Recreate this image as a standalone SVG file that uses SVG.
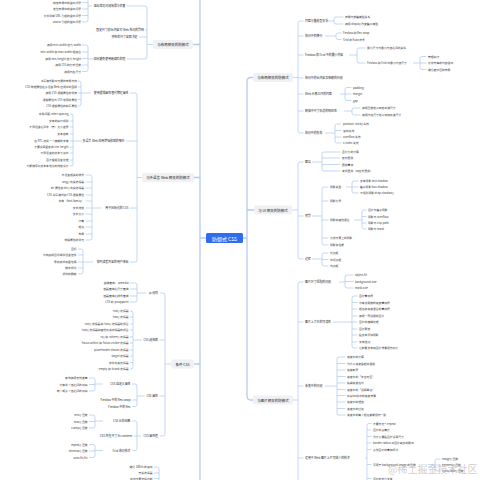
<svg xmlns="http://www.w3.org/2000/svg" width="480" height="480" viewBox="0 0 480 480">
<style>
text{font-family:"Noto Sans CJK SC","Noto Sans",sans-serif;dominant-baseline:central}
.l{font-size:2.8px;fill:#3c3c3c}
.s{font-size:2.9px;fill:#2a2a2a}
.e{text-anchor:end}
.n1{font-size:3.5px;fill:#222;text-anchor:middle}
.bg{fill:#eff1f4}
.c{fill:none;stroke:#aec6ee;stroke-width:0.7}
.t{fill:none;stroke:#b5cbf0;stroke-width:1.3}
.wm{font-size:10px;fill:#bcbcbc;opacity:0.7}
</style>
<rect width="480" height="480" fill="#fff"/>
<g id="connectors">
<path class="t" d="M200 -5V490 M206 238H200 M200 44.5H193 M200 177.5H194 M200 364H194"/>
<path class="t" d="M253 77.5H251Q247 77.5 247 81.5V396Q247 400 251 400H253 M243 238H247 M247 210H254"/>
<path class="c" d="M127 6H145Q147 6 147 8V57Q147 59 145 59H127 M147 30H145 M147 37H139 M153 44.5H147"/>
<path class="c" d="M82 -3.5H86Q88 -3.5 88 -1.5V20Q88 22 86 22H82 M88 2.5H82 M88 9H82 M88 15.5H82 M92 6H88"/>
<path class="c" d="M82 45H86Q88 45 88 47V69.5Q88 71.5 86 71.5H82 M88 52H82 M88 58.5H82 M88 65H82 M94 59H88"/>
<path class="c" d="M130 93H135Q137 93 137 95V260Q137 262 135 262H130 M137 141H126 M137 208H130 M142 177.5H137"/>
<path class="c" d="M78 81H79Q81 81 81 83V104Q81 106 79 106H78 M81 87H78 M81 93H78 M81 99.5H78 M91 93H81"/>
<path class="c" d="M70 114H71Q73 114 73 116V164Q73 166 71 166H70 M73 121H70 M73 127H70 M73 134H70 M73 141H70 M73 147H70 M73 153H70 M73 160H70 M82 141H73"/>
<path class="c" d="M85.5 175H90Q92 175 92 177V238Q92 240 90 240H85.5 M92 182H85.5 M92 188H85.5 M92 195H85.5 M92 201H85.5 M92 208H85.5 M92 214H85.5 M92 221H85.5 M92 227H85.5 M92 234H85.5 M101 208H92"/>
<path class="c" d="M78 249H81Q83 249 83 251V272Q83 274 81 274H78 M83 255H78 M83 262H78 M83 268H78 M93 262H83"/>
<path class="c" d="M160 293H163Q165 293 165 295V434Q165 436 163 436H160 M165 340H159.5 M165 396H159.5 M171 364H165"/>
<path class="c" d="M130 283H135Q137 283 137 285V300Q137 302 135 302H130 M137 289H130 M137 296H130 M146 293H137"/>
<path class="c" d="M130 311H131Q133 311 133 313V367Q133 369 131 369H130 M133 317H130 M133 324H130 M133 330H130 M133 337H130 M133 343H130 M133 350H130 M133 356H130 M133 362.5H130 M142 340H133"/>
<path class="c" d="M132 384H135Q137 384 137 386V404.5Q137 406.5 135 406.5H132 M137 400H132 M145 396H137"/>
<path class="c" d="M89 378H93Q95 378 95 380V389Q95 391 93 391H89 M95 384.5H89 M103 384H95"/>
<path class="c" d="M132 421H135Q137 421 137 423V448.5Q137 450.5 135 450.5H132 M137 436H133.5 M141 436H137"/>
<path class="c" d="M89 415H93Q95 415 95 417V426Q95 428 93 428H89 M95 421.5H89 M103 421H95"/>
<path class="c" d="M89 444.5H93Q95 444.5 95 446.5V455.5Q95 457.5 93 457.5H89 M95 451H89 M103 450.5H95"/>
<path class="c" d="M154 467H157Q159 467 159 469V490 M159 473H154 M159 478.5H154"/>
<path class="c" d="M303.5 21H300Q298 21 298 23V131Q298 133 300 133H303.5 M298 36H303.5 M298 55H303.5 M298 78H303.5 M298 94H303.5 M298 111H303.5 M293 77.5H298"/>
<path class="c" d="M343.5 17H336Q334 17 334 19V22Q334 24 336 24H343.5 M328 21H334"/>
<path class="c" d="M341.5 33H338Q336 33 336 35V37.5Q336 39.5 338 39.5H341.5 M325 36H336"/>
<path class="c" d="M365.5 48H359Q357 48 357 50V61Q357 63 359 63H365.5 M349 55H357"/>
<path class="c" d="M426.5 56.5H422Q420 56.5 420 58.5V67.5Q420 69.5 422 69.5H426.5 M420 63H426.5 M413 63H420"/>
<path class="c" d="M351.5 87.5H347Q345 87.5 345 89.5V98.5Q345 100.5 347 100.5H351.5 M345 94H351.5 M340 94H345"/>
<path class="c" d="M360.5 108H354Q352 108 352 110V113Q352 115 354 115H360.5 M344 111H352"/>
<path class="c" d="M341.5 124H337Q335 124 335 126V141Q335 143 337 143H341.5 M335 130.5H341.5 M335 137H341.5 M325 133H335"/>
<path class="c" d="M303.5 162H300Q298 162 298 164V257Q298 259 300 259H303.5 M298 216H303.5 M292 210H298"/>
<path class="c" d="M340.5 152H324Q322 152 322 154V169Q322 171 324 171H340.5 M322 158H340.5 M322 164.5H340.5 M312 162H322"/>
<path class="c" d="M328.5 187H324Q322 187 322 189V243Q322 245 324 245H328.5 M322 201H328.5 M322 220H328.5 M322 238H328.5 M312 216H322"/>
<path class="c" d="M358.5 181H354Q352 181 352 183V191Q352 193 354 193H358.5 M352 187H358.5 M346 187H352"/>
<path class="c" d="M366.5 210H364Q362 210 362 212V227Q362 229 364 229H366.5 M362 216.5H366.5 M362 223H366.5 M354 220H362"/>
<path class="c" d="M328.5 253H324Q322 253 322 255V264Q322 266 324 266H328.5 M322 259.5H328.5 M312 259H322"/>
<path class="c" d="M303.5 282H300Q298 282 298 284V490 M298 322H303.5 M298 386H303.5 M298 458H303.5 M293 400H298"/>
<path class="c" d="M353.5 275H347Q345 275 345 277V286Q345 288 347 288H353.5 M345 281.5H353.5 M339 282H345"/>
<path class="c" d="M357.5 296H354Q352 296 352 298V346Q352 348 354 348H357.5 M352 302.5H357.5 M352 309H357.5 M352 316H357.5 M352 322H357.5 M352 329H357.5 M352 335H357.5 M352 342H357.5 M333 322H352"/>
<path class="c" d="M345.5 357H339Q337 357 337 359V413Q337 415 339 415H345.5 M337 363.5H345.5 M337 370H345.5 M337 376.5H345.5 M337 383H345.5 M337 389.5H345.5 M337 395.5H345.5 M337 402H345.5 M337 408.5H345.5 M325 386H337"/>
<path class="c" d="M371.5 423.5H369Q367 423.5 367 425.5V490 M367 430H371.5 M367 436.5H371.5 M367 443H371.5 M367 449.5H371.5 M367 464.5H371.5 M367 478.5H371.5 M365 458H367"/>
<path class="c" d="M440.5 459H437Q435 459 435 461V469Q435 471 437 471H440.5 M435 465H440.5 M428 464.5H435"/>
</g>
<g id="root"><rect x="206" y="233" width="37" height="10" rx="1.5" fill="#2f6cf0"/><text x="224.5" y="238" style="font-size:5px;fill:#fff;text-anchor:middle">防御式 CSS</text></g>
<g id="L-layout"><rect class="bg" x="153" y="40" width="40" height="9" rx="2"/><text class="n1" x="173" y="44.5">与布局相关的防御式</text></g>
<g id="L-layout-overflow"><text class="s e" x="125.5" y="6">溢出常见问题场景与修复</text>
<text class="l e" x="81" y="2.5">网格布局中的溢出问题</text><text class="l e" x="81" y="9">定位布局中的溢出问题</text><text class="l e" x="81" y="15.5">长单词或 URL 引起的溢出问题</text><text class="l e" x="81" y="22">100vw 引起的溢出问题</text></g>
<g id="L-layout-fixed"><text class="s e" x="144" y="30">固定尺寸和长内容对 Web 布局的影响</text></g>
<g id="L-layout-flex"><text class="s e" x="137.5" y="37">弹性的尺寸容器决定</text></g>
<g id="L-layout-hard"><text class="s e" x="125.5" y="59">如何避免使用硬编码的值</text>
<text class="l e" x="81" y="45">使用 min-width 替代 width</text><text class="l e" x="81" y="52">min-width 和 max-width 相结合</text><text class="l e" x="81" y="58.5">使用 min-height 替代 height</text><text class="l e" x="81" y="65">使用 CSS 的比较函数</text><text class="l e" x="81" y="71.5">使用内在尺寸</text></g>
<g id="L-i18n"><rect class="bg" x="142" y="173" width="52" height="9" rx="2"/><text class="n1" x="168" y="177.5">与多语言 Web 相关的防御式</text></g>
<g id="L-i18n-logical"><text class="s e" x="128.5" y="93">使用逻辑属性替代物理属性</text>
<text class="l e" x="77" y="81">书写模式影响元素的布局方向</text><text class="l e" x="77" y="87">CSS 物理属性在多语言 Web 应用中的困境</text><text class="l e" x="77" y="93">使用 CSS 逻辑属性的优势</text><text class="l e" x="77" y="99.5">逻辑属性与 CSS 常用的属性</text><text class="l e" x="77" y="106">CSS 逻辑属性的简写属性</text></g>
<g id="L-i18n-type"><text class="s e" x="124.5" y="141">多语言 Web 应用增强排版的细节</text>
<text class="l e" x="68.5" y="114">字母间距 letter-spacing</text><text class="l e" x="68.5" y="121">文本的换行规则</text><text class="l e" x="68.5" y="127">不同语言之间字（符）大小差异</text><text class="l e" x="68.5" y="134">文本截断</text><text class="l e" x="68.5" y="141">在 RTL 选择一个模糊的字体</text><text class="l e" x="68.5" y="147">不要设置固定的 line-height</text><text class="l e" x="68.5" y="153">不同语言的文本下划线</text><text class="l e" x="68.5" y="160">图片根据语言处理</text><text class="l e" x="68.5" y="166">不能随意对文本本地化的排版设计</text></g>
<g id="L-i18n-css"><text class="s e" x="128.5" y="208">用于国际化的 CSS</text>
<text class="l e" x="84" y="175">与语言相关的样式</text><text class="l e" x="84" y="182">lang() 伪类选择器</text><text class="l e" x="84" y="188">dir 属性和 dir() 伪类选择器</text><text class="l e" x="84" y="195">CSS 书写模式和 CSS 逻辑属性</text><text class="l e" x="84" y="201">字体（font-family）</text><text class="l e" x="84" y="208">文字排版</text><text class="l e" x="84" y="214">文字大小</text><text class="l e" x="84" y="221">行高</text><text class="l e" x="84" y="227">颜色</text><text class="l e" x="84" y="234">布局</text><text class="l e" x="84" y="240">特殊属性的单元</text></g>
<g id="L-i18n-ux"><text class="s e" x="128.5" y="262">排列读者内容的用户体验</text>
<text class="l e" x="76.5" y="249">图标</text><text class="l e" x="76.5" y="255">带链接的图标或单语言控件</text><text class="l e" x="76.5" y="262">导航菜单和面包屑</text><text class="l e" x="76.5" y="268">数字顺序</text><text class="l e" x="76.5" y="274">组件的翻转</text></g>
<g id="L-cond"><rect class="bg" x="171" y="359.5" width="23" height="9" rx="2"/><text class="n1" x="182.5" y="364">条件 CSS</text></g>
<g id="L-cond-at"><text class="s e" x="158" y="293">@ 规则</text>
<text class="l e" x="128.5" y="283">媒体查询：@media</text><text class="l e" x="128.5" y="289">容器查询之尺寸查询</text><text class="l e" x="128.5" y="296">容器查询之样式查询</text><text class="l e" x="128.5" y="302">CSS 的 @supports</text></g>
<g id="L-cond-sel"><text class="s e" x="158" y="340">CSS 选择器</text>
<text class="l e" x="128.5" y="311">:not() 选择器</text><text class="l e" x="128.5" y="317">:has() 选择器</text><text class="l e" x="128.5" y="324">:not() 选择器和 :has() 选择器的组合</text><text class="l e" x="128.5" y="330">:has() 选择器和其他伪类选择器的组合</text><text class="l e" x="128.5" y="337">:is() 和 :where() 选择器</text><text class="l e" x="128.5" y="343">:focus-within 和 :focus-visible 选择器</text><text class="l e" x="128.5" y="350">:placeholder-shown 选择器</text><text class="l e" x="128.5" y="356">:target 选择器</text><text class="l e" x="128.5" y="362.5">表单伪类选择器</text><text class="l e" x="128.5" y="369">:empty 和 :blank 选择器</text></g>
<g id="L-cond-prop"><text class="s e" x="158" y="396">CSS 属性</text>
<text class="s e" x="130.5" y="384">CSS 自定义属性</text><text class="l e" x="87.5" y="378">有效使用无效变量</text><text class="l e" x="87.5" y="384.5">带有单个值之间的切换</text><text class="l e" x="87.5" y="391">两个或多个值之间的切换</text>
<text class="s e" x="130.5" y="400">Flexbox 中的 flex-wrap</text><text class="s e" x="130.5" y="406.5">Flexbox 中的 flex</text></g>
<g id="L-cond-val"><text class="s e" x="158" y="436">CSS 属性值</text>
<text class="s e" x="130.5" y="421">CSS 比较函数</text><text class="l e" x="87.5" y="415">min() 函数</text><text class="l e" x="87.5" y="421.5">max() 函数</text><text class="l e" x="87.5" y="428">clamp() 函数</text>
<text class="s e" x="132" y="436">CSS 内在尺寸 fit-content</text>
<text class="s e" x="130.5" y="450.5">Grid 布局技术</text><text class="l e" x="87.5" y="444.5">repeat() 函数</text><text class="l e" x="87.5" y="451">minmax() 函数</text><text class="l e" x="87.5" y="457.5">auto-fit/fill</text></g>
<g id="L-more"><text class="l e" x="152.5" y="467">避免 100vh 的滚动</text><text class="l e" x="152.5" y="473">开关选择器</text><text class="l e" x="152.5" y="478.5">动态元素选择机制</text></g>
<g id="R-layout"><rect class="bg" x="253" y="73" width="40" height="9" rx="2"/><text class="n1" x="273" y="77.5">与布局相关的防御式</text></g>
<g id="R-layout-children">
<text class="s" x="305" y="21">间距与盒模型关系</text><text class="l" x="345" y="17">布局内部盒模型关系</text><text class="l" x="345" y="24">使用 display 改变盒子模型</text>
<text class="s" x="305" y="36">布局中的换行</text><text class="l" x="343" y="33">Flexbox 的 flex-wrap</text><text class="l" x="343" y="39.5">Grid 的 Auto 技术</text>
<text class="s" x="305" y="55">Flexbox 和 Grid 中的最小内容</text><text class="l" x="367" y="48">最小尺寸与最小内容之间的关系</text><text class="l" x="367" y="63">Flexbox 和 Grid 中最小内容尺寸</text><text class="l" x="428" y="56.5">管理换行</text><text class="l" x="428" y="63">长字符串的内容溢出</text><text class="l" x="428" y="69.5">避免被挤压的布局</text>
<text class="s" x="305" y="78">布局中的长内容及伸缩的问题</text>
<text class="s" x="305" y="94">Web 元素之间的间距</text><text class="l" x="353" y="87.5">padding</text><text class="l" x="353" y="94">margin</text><text class="l" x="353" y="100.5">gap</text>
<text class="s" x="305" y="111">网格中尺寸轨道的响应性</text><text class="l" x="362" y="108">使用函数定义网格轨道尺寸</text><text class="l" x="362" y="115">使用内在尺寸定义网格轨道尺寸</text>
<text class="s" x="305" y="133">布局中的失效</text><text class="l" x="343" y="124">position: sticky 失效</text><text class="l" x="343" y="130.5">滚动失效</text><text class="l" x="343" y="137">overflow 失效</text><text class="l" x="343" y="143">z-index 失效</text>
</g>
<g id="R-ui"><rect class="bg" x="254" y="205.5" width="38" height="9" rx="2"/><text class="n1" x="273" y="210">与 UI 相关的防御式</text></g>
<g id="R-ui-children">
<text class="s" x="305" y="162">圆角</text><text class="l" x="342" y="152">百分比的计算</text><text class="l" x="342" y="158">嵌套圆角</text><text class="l" x="342" y="164.5">圆角叠加</text><text class="l" x="342" y="171">条件圆角（响应式圆角）</text>
<text class="s" x="305" y="216">阴影</text>
<text class="l" x="330" y="187">阴影类型</text><text class="l" x="360" y="181">文本阴影 text-shadow</text><text class="l" x="360" y="187">盒子阴影 box-shadow</text><text class="l" x="360" y="193">不规则阴影 drop-shadow()</text>
<text class="l" x="330" y="201">阴影分层</text>
<text class="l" x="330" y="220">阴影和其他混合</text><text class="l" x="368" y="210">图片与盒子阴影</text><text class="l" x="368" y="216.5">阴影与 overflow</text><text class="l" x="368" y="223">阴影与 clip-path</text><text class="l" x="368" y="229">阴影与 mask</text>
<text class="l" x="330" y="238">分组元素上的阴影</text><text class="l" x="330" y="245">阴影和性能</text>
<text class="s" x="305" y="259">边框</text><text class="l" x="330" y="253">外边框</text><text class="l" x="330" y="259.5">中间边框</text><text class="l" x="330" y="266">内边框</text>
</g>
<g id="R-img"><rect class="bg" x="253" y="395.5" width="40" height="9" rx="2"/><text class="n1" x="273" y="400">与图片相关的防御式</text></g>
<g id="R-img-children">
<text class="s" x="305" y="282">图片尺寸适配的问题</text><text class="l" x="355" y="275">object-fit</text><text class="l" x="355" y="281.5">background-size</text><text class="l" x="355" y="288">mask-size</text>
<text class="s" x="305" y="322">图片上文本的可读性</text><text class="l" x="359" y="296">图片叠加层</text><text class="l" x="359" y="302.5">带有透明度的渐变叠加层</text><text class="l" x="359" y="309">颜色和渐变混合的叠加层</text><text class="l" x="359" y="316">使用一层透明的图片</text><text class="l" x="359" y="322">图片的模糊处理</text><text class="l" x="359" y="329">图片蒙版</text><text class="l" x="359" y="335">给文本添加阴影</text><text class="l" x="359" y="342">文本描边</text><text class="l" x="359" y="348">让前景文本和图片背景保持对比</text>
<text class="s" x="305" y="386">渐变中的问题</text><text class="l" x="347" y="357">渐变中的计算</text><text class="l" x="347" y="363.5">为什么渐变看起来很脏</text><text class="l" x="347" y="370">渐变断层</text><text class="l" x="347" y="376.5">渐变中的“灰色死区”</text><text class="l" x="347" y="383">缓解渐变色带</text><text class="l" x="347" y="389.5">渐变中的“透明黑色”</text><text class="l" x="347" y="395.5">修复body中的渐变背景</text><text class="l" x="347" y="402">渐变中的锯齿</text><text class="l" x="347" y="408.5">渐变中的过渡</text><text class="l" x="347" y="415">渐变中的每个颜色都能保持一致</text>
<text class="s" x="305" y="458">运用于 Web 图片上不可缺少的技术</text><text class="l" x="373" y="423.5">不要忘记 *-repeat</text><text class="l" x="373" y="430">图片的宽高比</text><text class="l" x="373" y="436.5">为什么要给图片设置尺寸</text><text class="l" x="373" y="443">border-radius 对图片裁剪的影响</text><text class="l" x="373" y="449.5">多张图片的叠加顺序</text><text class="l" x="373" y="464.5">可用于 background-image 的函数</text><text class="l" x="442" y="459">image() 函数</text><text class="l" x="442" y="465">element() 函数</text><text class="l" x="442" y="471">cross-fade() 函数</text><text class="l" x="373" y="478.5">图片的替代文本</text>
</g>
<text class="wm" x="388" y="468">@稀土掘金技术社区</text>
</svg>
